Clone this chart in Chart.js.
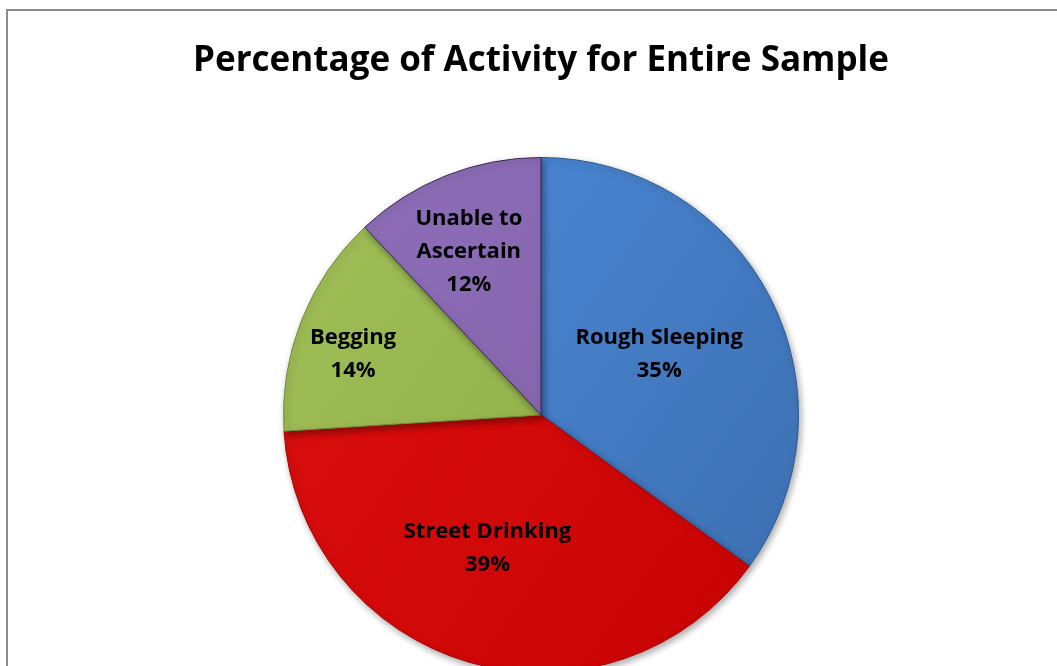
<!DOCTYPE html>
<html>
<head>
<meta charset="utf-8">
<script src="https://cdn.jsdelivr.net/npm/chart.js@4/dist/chart.umd.min.js"></script>
<style>
  html, body { margin: 0; padding: 0; background: #fff; overflow: hidden; }
  #frame { position: absolute; left: 6px; top: 9px; width: 1200px; height: 800px; border: 2px solid #8c8c8c; }
  #wrap { position: absolute; left: 0; top: 0; width: 1057px; height: 700px; }
</style>
</head>
<body>
<div id="frame"></div>
<div id="wrap"><canvas id="pieChart"></canvas></div>
<script>
// 데이터
var categories = ['Rough Sleeping', 'Street Drinking', 'Begging', ['Unable to', 'Ascertain']];
var percentages = [35, 39, 14, 12];
var chartTitle = 'Percentage of Activity for Entire Sample';

// 색상 (밝은쪽 / 어두운쪽)
var lightColors = ['#4f90e4', '#e01212', '#a3c25a', '#9272bd'];
var darkColors  = ['#3a6aa8', '#c40000', '#86a540', '#7a5aa0'];
var edgeColors  = ['#2d5a94', '#a80000', '#6f8c34', '#3a2a50'];

// 레이블 위치 (반지름 비율, 각도 보정)
var labelPlace = [{ r: 0.52, da: -1 }, { r: 0.55, da: 6 }, { r: 0.77, da: -3 }, { r: 0.70, da: -2 }];

function sliceFill(context) {
    var chart = context.chart;
    var area = chart.chartArea;
    var i = context.dataIndex;
    if (!area) return darkColors[i];
    var g = chart.ctx.createLinearGradient(area.left + 150, area.top, area.right - 150, area.bottom);
    g.addColorStop(0, lightColors[i]);
    g.addColorStop(1, darkColors[i]);
    return g;
}

var shadowPlugin = {
    id: 'pieShadow',
    beforeDatasetDraw: function(chart) {
        var c = chart.ctx;
        c.save();
        c.shadowColor = 'rgba(0,0,0,0.35)';
        c.shadowBlur = 7;
        c.shadowOffsetX = 2;
        c.shadowOffsetY = 3;
    },
    afterDatasetDraw: function(chart) {
        chart.ctx.restore();
    }
};

var labelPlugin = {
    id: 'sliceLabels',
    afterDatasetsDraw: function(chart) {
        var c = chart.ctx;
        var meta = chart.getDatasetMeta(0);
        c.save();
        c.font = 'bold 22px "Open Sans", sans-serif';
        c.fillStyle = '#000';
        c.textAlign = 'center';
        c.textBaseline = 'middle';
        meta.data.forEach(function(arc, i) {
            var p = arc.getProps(['x', 'y', 'startAngle', 'endAngle', 'outerRadius'], true);
            var mid = (p.startAngle + p.endAngle) / 2 + labelPlace[i].da * Math.PI / 180;
            var rr = p.outerRadius * labelPlace[i].r;
            var cx = p.x + Math.cos(mid) * rr;
            var cy = p.y + Math.sin(mid) * rr + 2;
            var lines = [].concat(categories[i]);
            lines.push(percentages[i] + '%');
            var lh = 33;
            var y0 = cy - (lines.length - 1) * lh / 2;
            lines.forEach(function(t, k) {
                c.fillText(t, cx, y0 + k * lh);
            });
        });
        c.restore();
    }
};

document.addEventListener('DOMContentLoaded', function() {
    var ctx = document.getElementById('pieChart').getContext('2d');
    new Chart(ctx, {
        type: 'pie',
        data: {
            labels: categories,
            datasets: [{
                data: percentages,
                backgroundColor: sliceFill,
                borderColor: edgeColors,
                borderWidth: 1
            }]
        },
        options: {
            responsive: true,
            maintainAspectRatio: false,
            animation: false,
            layout: { padding: { left: 25, right: 0, top: 0, bottom: 27 } },
            plugins: {
                legend: { display: false },
                tooltip: { enabled: false },
                title: {
                    display: true,
                    text: chartTitle,
                    color: '#000',
                    font: { family: '"Open Sans", sans-serif', size: 35, weight: 'bold', lineHeight: 1.2 },
                    padding: { top: 40, bottom: 75 }
                }
            }
        },
        plugins: [shadowPlugin, labelPlugin]
    });
});
</script>
</body>
</html>
